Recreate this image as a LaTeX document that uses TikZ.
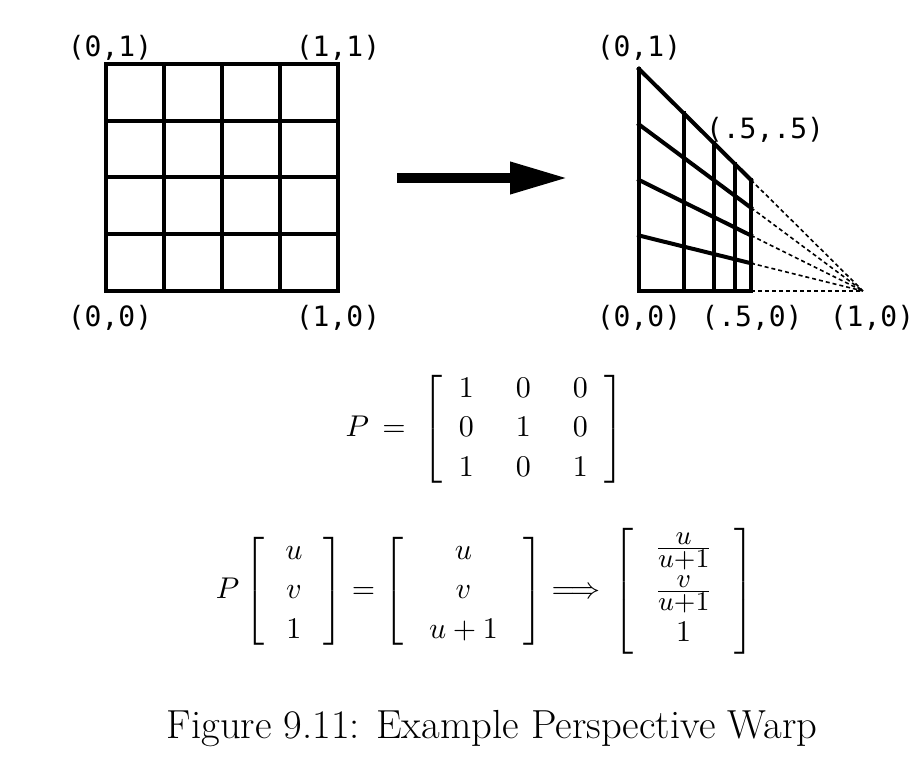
\documentclass[tikz,border=0pt]{standalone}
\usepackage{amsmath}
\usepackage{graphicx}
\usepackage{fontspec}
\newfontfamily\ptmono{DejaVu Sans Mono}
\usetikzlibrary{arrows.meta}

\DeclareMathSizes{10}{10}{9}{7}
\setlength{\arraycolsep}{7pt}
\renewcommand{\arraystretch}{1.11}

\tikzset{
  gridline/.style={line width=2pt, line cap=rect},
  projline/.style={line width=0.8pt, dash pattern=on 2pt off 1.5pt},
  ptlabel/.style={font=\ptmono\fontsize{14}{16}\selectfont, inner sep=0pt},
  bigarrow/.style={line width=5pt, -{Triangle[length=29pt,width=15pt]}},
  eqn/.style={inner sep=0pt}
}

\begin{document}
\begin{tikzpicture}[x=0.5pt, y=-0.5pt]
    \useasboundingbox (0,0) rectangle (914,764);
    % unit square
    \foreach \i in {0,...,4} {
        \draw[gridline] ({106+58*\i},64) -- ({106+58*\i},291);
        \draw[gridline] (106,{64+56.75*\i}) -- (338,{64+56.75*\i});
    }
    \node[ptlabel] (sq01) at (110,48) {(0,1)};
    \node[ptlabel] (sq11) at (338,48) {(1,1)};
    \node[ptlabel] (sq00) at (110,318) {(0,0)};
    \node[ptlabel] (sq10) at (338,318) {(1,0)};

    \coordinate (arrowtail) at (397,178);
    \coordinate (arrowtip) at (568,178);
    \draw[bigarrow] (arrowtail) -- (arrowtip);

    % warped square
    \foreach \i in {0,...,4} {
        \pgfmathsetmacro{\wx}{639+224*(\i/4)/(1+\i/4)}
        \pgfmathsetmacro{\wy}{291-222/(1+\i/4)}
        \pgfmathsetmacro{\ly}{291-222*\i/4}
        \pgfmathsetmacro{\ry}{291-111*\i/4}
        \draw[gridline] (\wx,291) -- (\wx,\wy);
        \draw[gridline] (639,\ly) -- (751,\ry);
        \draw[projline] (751,\ry) -- (863,291);
    }
    \node[ptlabel] (wp01) at (639,48) {(0,1)};
    \node[ptlabel] (wphh) at (765,130) {(.5,.5)};
    \node[ptlabel] (wp00) at (639,318) {(0,0)};
    \node[ptlabel] (wph0) at (752,318) {(.5,0)};
    \node[ptlabel] (wp10) at (872,318) {(1,0)};

    % equations
    \node[eqn] (pmatrix) at (485,429) {\scalebox{1.5}{$P\,=\;\left[\begin{array}{@{\hspace{5.5pt}}ccc@{\hspace{5.5pt}}} 1 & 0 & 0\\ 0 & 1 & 0\\ 1 & 0 & 1 \end{array}\right]$}};
    \node[eqn] (warpeq) at (485,591) {\scalebox{1.5}{$P\left[\begin{array}{c} u\\ v\\ 1 \end{array}\right]=\left[\begin{array}{@{\hspace{8.5pt}}c@{\hspace{8.5pt}}} u\\ v\\ u+1 \end{array}\right]\Longrightarrow\,\left[\begin{array}{c} \frac{u}{u+1}\\[1pt] \frac{v}{u+1}\\[1pt] 1 \end{array}\right]$}};

    \node[font=\fontsize{20.3}{24}\selectfont, anchor=base, inner sep=0pt] (caption) at (492,738) {Figure 9.11: Example Perspective Warp};
\end{tikzpicture}
\end{document}
